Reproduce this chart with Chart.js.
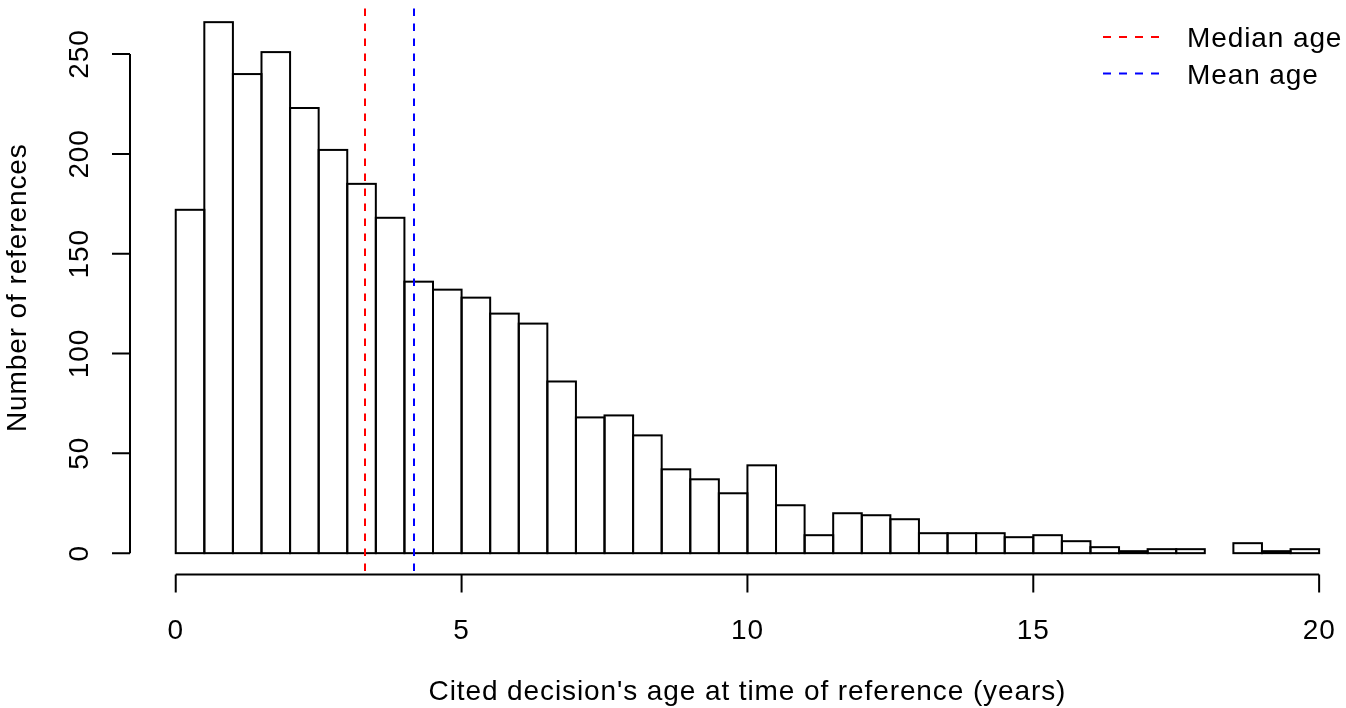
<!DOCTYPE html>
<html>
<head>
<meta charset="utf-8">
<script src="https://cdn.jsdelivr.net/npm/chart.js@4"></script>
<style>
  html, body { margin: 0; padding: 0; background: #fff; }
  #wrap { width: 1346px; height: 708px; }
</style>
</head>
<body>
<div id="wrap"><canvas id="ageChart" width="1346" height="708"></canvas></div>
<script>
// histogram bins (years), width 0.5
const binStarts = [0, 0.5, 1, 1.5, 2, 2.5, 3, 3.5, 4, 4.5,
                   5, 5.5, 6, 6.5, 7, 7.5, 8, 8.5, 9, 9.5,
                   10, 10.5, 11, 11.5, 12, 12.5, 13, 13.5, 14, 14.5,
                   15, 15.5, 16, 16.5, 17, 17.5, 18, 18.5, 19, 19.5];
const binWidth = 0.5;
const counts = [172, 266, 240, 251, 223, 202, 185, 168, 136, 132,
                128, 120, 115, 86, 68, 69, 59, 42, 37, 30,
                44, 24, 9, 20, 19, 17, 10, 10, 10, 8,
                9, 6, 3, 1, 2, 2, 0, 5, 1, 2];

const xTicks = [0, 5, 10, 15, 20];
const yTicks = [0, 50, 100, 150, 200, 250];

const medianAge = 3.31;
const meanAge = 4.16;

const legendItems = [
  { label: 'Median age', color: '#ff0000' },
  { label: 'Mean age', color: '#0000ff' }
];

const FONT = '28px "Liberation Sans", Arial, Helvetica, sans-serif';

// R-style bar outlines, detached axes, reference lines and legend
const rDecorations = {
  id: 'rDecorations',
  afterDatasetsDraw(chart) {
    const { ctx, chartArea, scales: { x, y } } = chart;
    ctx.save();

    // outline each bar with a centred 2px stroke (shared edges stay 2px)
    ctx.strokeStyle = '#000';
    ctx.lineWidth = 2;
    chart.getDatasetMeta(0).data.forEach(bar => {
      const { x: cx, y: top, base, width } = bar.getProps(['x', 'y', 'base', 'width'], true);
      if (Math.abs(base - top) < 0.5) return;
      ctx.strokeRect(cx - width / 2, top, width, base - top);
    });

    // median / mean lines
    ctx.setLineDash([7.5, 7.5]);
    ctx.lineDashOffset = 7.5;
    [[medianAge, legendItems[0].color], [meanAge, legendItems[1].color]].forEach(([v, c]) => {
      const px = Math.round(x.getPixelForValue(v));
      ctx.strokeStyle = c;
      ctx.beginPath();
      ctx.moveTo(px, chartArea.top);
      ctx.lineTo(px, chartArea.bottom);
      ctx.stroke();
    });
    ctx.setLineDash([]);

    ctx.strokeStyle = '#000';
    ctx.fillStyle = '#000';
    ctx.font = FONT;
    ctx.letterSpacing = '0.9px';

    // y axis
    const ax = chartArea.left;
    const y0 = y.getPixelForValue(yTicks[0]);
    const y1 = y.getPixelForValue(yTicks[yTicks.length - 1]);
    ctx.beginPath();
    ctx.moveTo(ax, y0);
    ctx.lineTo(ax, y1);
    yTicks.forEach(t => {
      const py = y.getPixelForValue(t);
      ctx.moveTo(ax, py);
      ctx.lineTo(ax - 18, py);
    });
    ctx.stroke();
    ctx.textAlign = 'center';
    ctx.textBaseline = 'alphabetic';
    yTicks.forEach(t => {
      const py = y.getPixelForValue(t);
      ctx.save();
      ctx.translate(88, py);
      ctx.rotate(-Math.PI / 2);
      ctx.fillText(String(t), 0, 0);
      ctx.restore();
    });

    // x axis
    const ay = chartArea.bottom;
    const x0 = x.getPixelForValue(xTicks[0]);
    const x1 = x.getPixelForValue(xTicks[xTicks.length - 1]);
    ctx.beginPath();
    ctx.moveTo(x0, ay);
    ctx.lineTo(x1, ay);
    xTicks.forEach(t => {
      const px = x.getPixelForValue(t);
      ctx.moveTo(px, ay);
      ctx.lineTo(px, ay + 18);
    });
    ctx.stroke();
    xTicks.forEach(t => {
      ctx.fillText(String(t), x.getPixelForValue(t), 639);
    });

    // axis titles
    ctx.fillText("Cited decision's age at time of reference (years)", (x0 + x1) / 2, 700);
    ctx.save();
    ctx.translate(26, (chartArea.top + chartArea.bottom) / 2);
    ctx.rotate(-Math.PI / 2);
    ctx.fillText('Number of references', 0, 0);
    ctx.restore();

    // legend
    ctx.textAlign = 'left';
    legendItems.forEach((item, i) => {
      const ly = 37 + i * 36.5;
      ctx.strokeStyle = item.color;
      ctx.setLineDash([8, 8]);
      ctx.lineDashOffset = 0;
      ctx.beginPath();
      ctx.moveTo(1103, ly);
      ctx.lineTo(1160, ly);
      ctx.stroke();
      ctx.setLineDash([]);
      ctx.fillText(item.label, 1187, ly + 10);
    });

    ctx.restore();
  }
};

const ctx = document.getElementById('ageChart').getContext('2d');
new Chart(ctx, {
  type: 'bar',
  data: {
    datasets: [{
      label: 'References',
      data: binStarts.map((s, i) => ({ x: s + binWidth / 2, y: counts[i] })),
      backgroundColor: '#ffffff',
      borderWidth: 0,
      barPercentage: 1,
      categoryPercentage: 1,
      inflateAmount: 0
    }]
  },
  options: {
    responsive: false,
    animation: false,
    devicePixelRatio: 1,
    layout: { padding: { left: 130, right: 0, top: 1, bottom: 133.6 } },
    plugins: { legend: { display: false }, tooltip: { enabled: false } },
    scales: {
      x: {
        type: 'linear',
        display: false,
        offset: false,
        min: -0.8,
        max: 20.47,
        grid: { display: false }
      },
      y: {
        display: false,
        min: -10.64,
        max: 276.6,
        grid: { display: false }
      }
    }
  },
  plugins: [rDecorations]
});
</script>
</body>
</html>
